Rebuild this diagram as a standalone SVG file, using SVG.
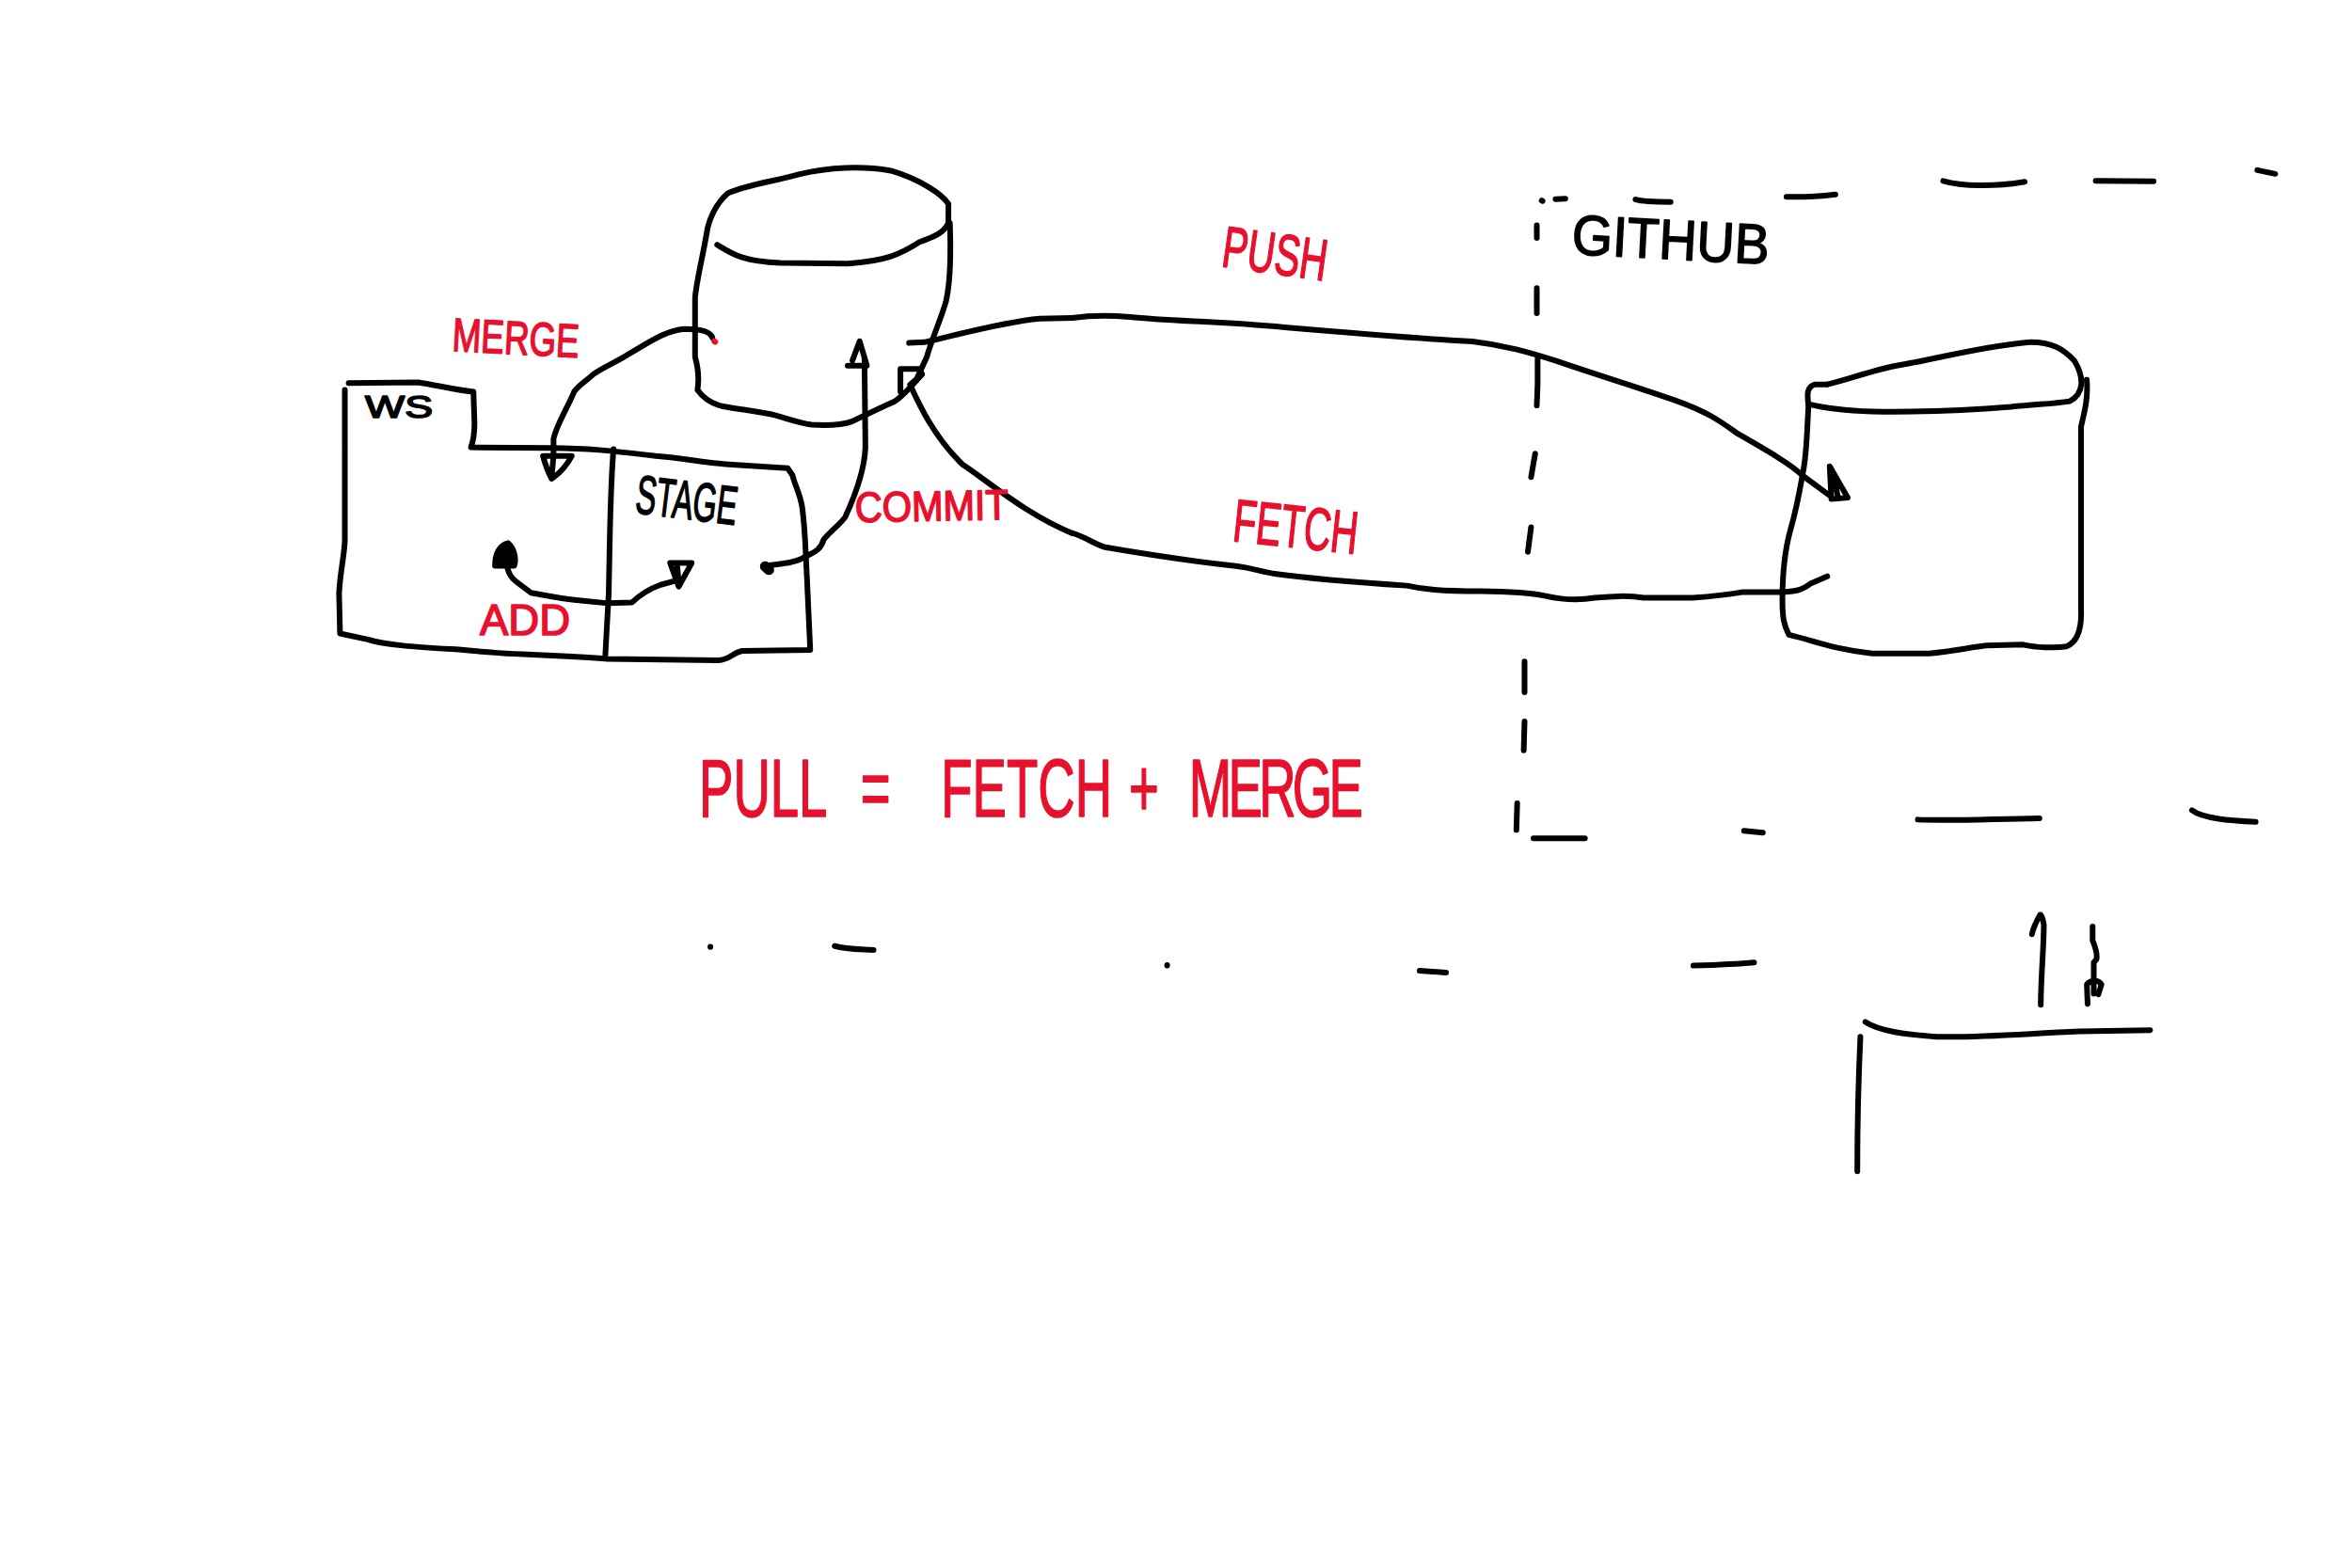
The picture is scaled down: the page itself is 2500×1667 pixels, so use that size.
<svg xmlns="http://www.w3.org/2000/svg" width="2500" height="1667" viewBox="0 0 2500 1667">
<style>
path{fill:none;stroke:#000;stroke-width:6;stroke-linecap:round;stroke-linejoin:round;vector-effect:non-scaling-stroke}
path.red{stroke:#e8112d}
path.solid{fill:#000}
path.dot{stroke-width:11}
text{font-family:"Liberation Sans",Arial,sans-serif;stroke-width:1.6;stroke-linejoin:round}
.r{fill:#e8112d;stroke:#e8112d}
.k{fill:#000;stroke:#000}
</style>
<rect width="2500" height="1667" fill="#fff"/>
<g id="workspace-stage">
<g transform="translate(340 150) scale(.51 .37)">
<path d="M60 695L205 693C240 700 280 715 320 720L322 800C323 830 320 860 315 880L480 882C560 883 600 888 700 905C760 912 810 925 860 930L975 940L985 960C990 990 1000 1010 1005 1050C1012 1120 1012 1180 1015 1250L1022 1462L880 1465C860 1470 855 1490 830 1492L600 1488C500 1475 400 1478 300 1462C220 1455 140 1450 100 1432L42 1415L40 1300C42 1240 50 1200 52 1150L52 715"/>
<path d="M612 885C605 1000 605 1100 602 1300L595 1475"/>
</g>
<text class="k" font-size="33" textLength="72" lengthAdjust="spacingAndGlyphs" x="388" y="444">WS</text>
<text class="k" font-size="58" textLength="108" lengthAdjust="spacingAndGlyphs" transform="translate(674 545) rotate(7)">STAGE</text>
</g>
<g id="local-repo" transform="translate(340 150) scale(.51 .37)">
<path d="M1310 235L1310 180C1295 150 1250 110 1190 85C1130 70 1060 75 1000 95C950 115 890 125 850 150C830 175 815 210 808 250C800 320 785 400 782 450L782 620C790 660 790 690 787 715C800 740 815 755 840 762C880 772 920 778 950 788C980 800 1000 810 1025 815C1060 818 1090 815 1110 805C1140 785 1170 765 1195 750C1215 735 1235 700 1255 670"/>
<path d="M1313 235C1315 310 1315 400 1305 460C1295 510 1275 570 1265 620L1245 680"/>
<path d="M828 298C860 325 880 345 960 350L1100 352C1180 345 1210 325 1250 290C1280 275 1300 265 1310 235"/>
</g>
<g id="github-repo" transform="translate(1140 150) scale(.8673 .4975)">
<path d="M925 520L910 520C900 525 900 540 902 565C900 620 900 670 895 710C890 760 885 800 880 830C872 880 870 930 870 980C870 1020 872 1035 878 1055C910 1068 930 1085 980 1095L1050 1095C1080 1090 1100 1082 1120 1078L1165 1076C1180 1082 1205 1084 1218 1080C1232 1070 1237 1040 1236 1000L1236 610C1240 580 1245 550 1243 510"/>
<path d="M925 520C950 510 980 490 1010 480C1060 465 1110 440 1170 430C1200 428 1215 445 1228 470C1240 505 1240 540 1222 556C1200 562 1180 562 1150 568C1100 575 1050 580 980 578C950 576 925 572 902 562"/>
</g>
<g id="github-boundary">
<g transform="translate(1140 150) scale(.8673 .4975)">
<path d="M575 127L576 128M592 124L604 123M690 125C700 130 715 130 733 130M875 119C895 120 915 118 935 114M1067 85C1090 97 1130 98 1167 87M1254 85L1325 86M1452 62L1474 70"/>
<path d="M569 180L569 207M569 314L569 368M570 465L570 520L569 565M567 668L562 718M562 825L558 878M554 1112L554 1178M554 1240L553 1302M545 1415L544 1472"/>
<path d="M565 1490L628 1490M823 1474L846 1478M1036 1450C1080 1453 1130 1448 1185 1447M1372 1430C1385 1448 1420 1452 1450 1455"/>
</g>
<text class="k" font-size="60" textLength="210" lengthAdjust="spacingAndGlyphs" transform="translate(1670 270) rotate(3)">GITHUB</text>
</g>
<g id="connectors">
<g transform="translate(340 150) scale(.51 .37)">
<path d="M818 565C815 550 800 540 760 540C720 545 690 575 640 615C610 640 590 650 570 670C555 690 540 700 530 720C515 770 495 810 487 855L487 905M465 905L525 905C515 930 500 955 483 970C475 950 470 930 465 905M487 905L483 965"/>
<path class="red" d="M822 575L824 577"/>
<path d="M925 1222C950 1215 990 1215 1010 1195C1035 1180 1045 1170 1050 1145C1065 1120 1085 1100 1095 1080C1115 1020 1135 950 1137 880L1135 620M1100 645L1140 645L1125 575L1110 630"/>
<path class="dot" d="M928 1222L936 1232"/>
<path d="M1228 580L1260 578C1320 560 1420 520 1500 510L1568 508"/>
<path d="M1210 720L1210 655L1250 655L1255 670L1230 700C1250 760 1280 850 1340 930C1400 985 1470 1070 1568 1127"/>
<path class="solid" d="M365 1220C365 1185 375 1160 392 1155C405 1170 410 1200 405 1220Z"/>
<path d="M390 1220C395 1260 410 1265 440 1298C470 1305 500 1315 530 1318L600 1328L650 1326C670 1300 690 1285 710 1275L745 1262M730 1212L775 1212L748 1280ZM745 1225L748 1270"/>
</g>
<g transform="translate(1140 150) scale(.8673 .4975)">
<path d="M0 378C20 373 50 373 70 376C120 385 180 385 260 398C340 410 420 422 490 428C530 436 560 452 590 468C640 498 700 530 740 555C780 580 795 600 815 625C850 660 880 690 895 715L930 760M928 695L950 762L930 765ZM934 725L938 760"/>
<path d="M0 838C15 845 25 860 40 868C80 880 130 895 200 908C220 912 230 920 250 925C300 937 350 943 410 950C430 958 450 962 500 962C540 963 560 965 580 972C600 980 620 982 640 976C660 973 680 970 700 976L760 976C790 972 800 970 820 964L870 964C890 962 895 958 905 945L925 930"/>
</g>
</g>
<g id="labels">
<text class="r" font-size="50" textLength="135" lengthAdjust="spacingAndGlyphs" transform="translate(480 373) rotate(3)">MERGE</text>
<text class="r" font-size="45" textLength="163" lengthAdjust="spacingAndGlyphs" transform="translate(909 555) rotate(-1)">COMMIT</text>
<text class="r" font-size="46" textLength="96" lengthAdjust="spacingAndGlyphs" x="510" y="675">ADD</text>
<text class="r" font-size="62" textLength="112" lengthAdjust="spacingAndGlyphs" transform="translate(1297 283) rotate(8)">PUSH</text>
<text class="r" font-size="64" textLength="133" lengthAdjust="spacingAndGlyphs" transform="translate(1309 575) rotate(6)">FETCH</text>
<text class="r" font-size="88" transform="translate(743 868) scale(.62 1)"><tspan x="0">PULL</tspan> <tspan x="277">=</tspan> <tspan x="415">FETCH</tspan> <tspan x="737">+</tspan> <tspan x="840" letter-spacing="-6">MERGE</tspan></text>
</g>
<g id="stray-strokes">
<g transform="translate(700 760) scale(.51 .333)">
<path d="M108 740L108 741M367 738C390 748 420 748 448 751M1060 799L1060 800"/>
</g>
<path d="M1513 1035L1541 1037" transform="translate(-4 -3)"/>
<g transform="translate(1700 940) scale(.408 .333)">
<path d="M245 260C300 258 360 255 403 250"/>
<path d="M1150 385C1150 300 1158 200 1158 130C1155 105 1150 95 1148 98C1140 115 1130 140 1127 160"/>
<path d="M1285 135L1285 180C1295 210 1298 225 1295 240L1288 250L1288 350M1272 382L1270 320C1280 305 1300 305 1308 320L1300 352"/>
<path d="M693 440C730 470 800 480 880 487C1000 490 1100 478 1250 470L1435 466M680 487C675 620 672 780 672 917"/>
</g>
</g>
</svg>
